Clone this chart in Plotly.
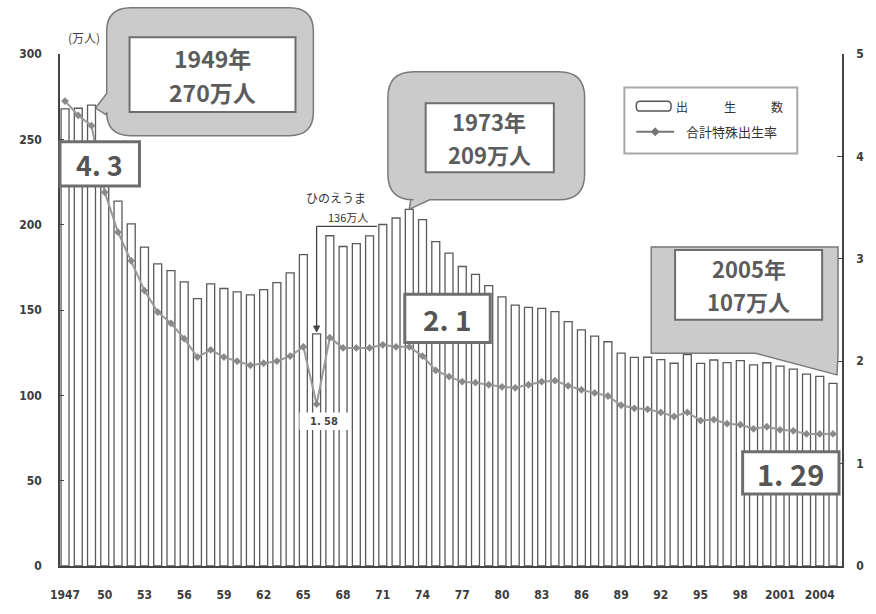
import plotly.graph_objects as go

# ---- data -------------------------------------------------------------
years = list(range(1947, 2006))

# births per year (unit: 10,000 people)
births = [
    267.9, 268.2, 270.0, 233.8, 213.8, 200.5, 186.8, 177.0, 173.1, 166.5,
    156.7, 165.3, 162.6, 160.6, 158.9, 161.9, 166.0, 171.7, 182.4, 136.0,
    193.5, 187.2, 188.9, 193.4, 200.1, 203.9, 209.0, 203.0, 190.1, 183.3,
    175.5, 170.9, 164.3, 157.7, 152.9, 151.5, 150.9, 149.0, 143.2, 138.3,
    134.7, 131.4, 124.7, 122.2, 122.3, 120.9, 118.8, 123.8, 118.7, 120.7,
    119.2, 120.3, 117.8, 119.1, 117.1, 115.4, 112.4, 111.1, 107.0,
]

# total fertility rate
tfr = [
    4.54, 4.40, 4.30, 3.65, 3.26, 2.98, 2.69, 2.48, 2.37, 2.22,
    2.04, 2.11, 2.04, 2.00, 1.96, 1.98, 2.00, 2.05, 2.14, 1.58,
    2.23, 2.13, 2.13, 2.13, 2.16, 2.14, 2.14, 2.05, 1.91, 1.85,
    1.80, 1.79, 1.77, 1.75, 1.74, 1.77, 1.80, 1.81, 1.76, 1.72,
    1.69, 1.66, 1.57, 1.54, 1.53, 1.50, 1.46, 1.50, 1.42, 1.43,
    1.39, 1.38, 1.34, 1.36, 1.33, 1.32, 1.29, 1.29, 1.29,
]

tick_years = [1947, 1950, 1953, 1956, 1959, 1962, 1965, 1968, 1971, 1974,
              1977, 1980, 1983, 1986, 1989, 1992, 1995, 1998, 2001, 2004]
tick_labels = ["1947", "50", "53", "56", "59", "62", "65", "68", "71", "74",
               "77", "80", "83", "86", "89", "92", "95", "98", "2001", "2004"]

left_ticks = [0, 50, 100, 150, 200, 250, 300]
right_ticks = [0, 1, 2, 3, 4, 5]

# ---- geometry -----------------------------------------------------------
FIG_W, FIG_H = 876, 614
ML, MR, MT, MB = 60, 29, 54, 40
PW = FIG_W - ML - MR
PH = FIG_H - MT - MB
XMIN, XMAX = 1946.62, 2005.68
YMAX_L, YMAX_R = 300, 5


def xp(px):
    return (px - ML) / PW


def yp(py):
    return (FIG_H - MB - py) / PH


def data_px(year, value):
    """pixel position of a (year, births) point"""
    x = ML + (year - XMIN) / (XMAX - XMIN) * PW
    y = FIG_H - MB - value / YMAX_L * PH
    return x, y


def to_path(cmds):
    out = []
    for c in cmds:
        op = c[0]
        pts = c[1:]
        out.append(op + " " + " ".join(f"{xp(a):.5f},{yp(b):.5f}" for a, b in pts))
    return " ".join(out) + " Z"


def round_box(x0, y0, x1, y1, r, left_tail=None, bottom_tail=None):
    cmds = [("M", (x0 + r, y0)), ("L", (x1 - r, y0)),
            ("Q", (x1, y0), (x1, y0 + r)), ("L", (x1, y1 - r)),
            ("Q", (x1, y1), (x1 - r, y1))]
    if bottom_tail:
        for p in bottom_tail:
            cmds.append(("L", p))
    cmds += [("L", (x0 + r, y1)), ("Q", (x0, y1), (x0, y1 - r))]
    if left_tail:
        for p in left_tail:
            cmds.append(("L", p))
    cmds += [("L", (x0, y0 + r)), ("Q", (x0, y0), (x0 + r, y0))]
    return to_path(cmds)


def rect(x0, y0, x1, y1, fill, color, width, dash="solid"):
    return dict(type="rect", xref="paper", yref="paper",
                x0=xp(x0), x1=xp(x1), y0=yp(y1), y1=yp(y0),
                fillcolor=fill, line=dict(color=color, width=width, dash=dash),
                layer="above")


def line(x0, y0, x1, y1, color, width):
    return dict(type="line", xref="paper", yref="paper",
                x0=xp(x0), x1=xp(x1), y0=yp(y0), y1=yp(y1),
                line=dict(color=color, width=width), layer="above")


def text(x, y, s, size, color="#5a5a5a", family="Noto Sans CJK JP", bold=True,
         xanchor="center"):
    return dict(xref="paper", yref="paper", x=xp(x), y=yp(y), text=s,
                showarrow=False, xanchor=xanchor, yanchor="middle",
                font=dict(family=family, size=size, color=color,
                          weight="bold" if bold else "normal"))


BUBBLE_FILL = "#cbcbcb"
BUBBLE_LINE = "#7a7a7a"
BOX_LINE = "#6e6e6e"
TXT = "#5c5c5c"

shapes = []
annotations = []

# ---- 1949 callout -----------------------------------------------------------
i49 = years.index(1949)
tx, ty = data_px(1949.3, births[i49])
shapes.append(dict(type="path", xref="paper", yref="paper",
                   path=round_box(107, 7, 315, 137, 24,
                                  left_tail=[(107, 116), (tx, ty + 3), (107, 94)]),
                   fillcolor=BUBBLE_FILL, line=dict(color=BUBBLE_LINE, width=1.5),
                   layer="above"))
shapes.append(rect(130, 37, 297, 113, "white", BOX_LINE, 2))
annotations.append(text(213, 58, "1949年", 23, TXT))
annotations.append(text(213, 93, "270万人", 23, TXT))

# ---- 1973 callout -----------------------------------------------------------
i73 = years.index(1973)
tx, ty = data_px(1973, births[i73])
shapes.append(dict(type="path", xref="paper", yref="paper",
                   path=round_box(390, 72, 588, 202, 26,
                                  bottom_tail=[(432, 202), (tx, ty), (413, 202)]),
                   fillcolor=BUBBLE_FILL, line=dict(color=BUBBLE_LINE, width=1.5),
                   layer="above"))
shapes.append(rect(428, 104, 557, 174, "white", BOX_LINE, 2))
annotations.append(text(492, 122, "1973年", 22, TXT))
annotations.append(text(492, 156, "209万人", 22, TXT))

# ---- 2005 callout -----------------------------------------------------------
i05 = years.index(2005)
tx, ty = data_px(2005.3, births[i05] + 5)
shapes.append(dict(type="path", xref="paper", yref="paper",
                   path=to_path([("M", (655, 250)), ("L", (843, 250)),
                                 ("L", (843, 358)), ("L", (tx, ty)),
                                 ("L", (760, 358)), ("L", (655, 358))]),
                   fillcolor=BUBBLE_FILL, line=dict(color=BUBBLE_LINE, width=1.5),
                   layer="above"))
shapes.append(rect(679, 253, 827, 324, "white", BOX_LINE, 2))
annotations.append(text(753, 271, "2005年", 22, TXT))
annotations.append(text(753, 305, "107万人", 22, TXT))

# ---- rate boxes ------------------------------------------------------------
shapes.append(rect(60, 143, 140, 188, "white", BOX_LINE, 3))
annotations.append(text(100, 166, "4. 3", 27, "#555"))
shapes.append(rect(407, 298, 493, 347, "white", BOX_LINE, 3))
annotations.append(text(450, 323, "2. 1", 28, "#555"))
shapes.append(rect(747, 458, 844, 501, "white", BOX_LINE, 3))
annotations.append(text(795, 480, "1. 29", 29, "#555"))

# ---- hinoeuma (1966) note ----------------------------------------------------
i66 = years.index(1966)
ax66, ay66 = data_px(1966, births[i66])
annotations.append(text(338, 200, "ひのえうま", 12, "#333", bold=False))
annotations.append(text(350, 220, "136万人", 11, "#333", bold=False))
shapes.append(line(ax66, 229, 379, 229, "#444", 1.3))
shapes.append(line(ax66, 229, ax66, ay66 - 6, "#444", 1.3))
shapes.append(dict(type="path", xref="paper", yref="paper",
                   path=to_path([("M", (ax66 - 3, ay66 - 8)), ("L", (ax66 + 3, ay66 - 8)),
                                 ("L", (ax66, ay66 - 2))]),
                   fillcolor="#444", line=dict(color="#444", width=1), layer="above"))
shapes.append(rect(301, 418, 351, 436, "white", "white", 0))
annotations.append(text(326, 427, "1. 58", 11, "#444",
                        family="DejaVu Sans Condensed, Liberation Sans Narrow"))

# ---- legend ----------------------------------------------------------------
shapes.append(rect(628, 88, 802, 155, "white", "#a8a8a8", 2))
shapes.append(dict(type="path", xref="paper", yref="paper",
                   path=round_box(640, 102, 675, 112, 4),
                   fillcolor="white", line=dict(color="#555", width=1.5), layer="above"))
annotations.append(text(686, 107, "出", 12, "#333", bold=False))
annotations.append(text(734, 107, "生", 12, "#333", bold=False))
annotations.append(text(782, 107, "数", 12, "#333", bold=False))
shapes.append(line(640, 133, 678, 133, "#777", 2))
shapes.append(dict(type="path", xref="paper", yref="paper",
                   path=to_path([("M", (659, 129)), ("L", (663, 133)),
                                 ("L", (659, 137)), ("L", (655, 133))]),
                   fillcolor="#777", line=dict(color="#777", width=1), layer="above"))
annotations.append(text(736, 133, "合計特殊出生率", 13, "#333", bold=False))

# ---- unit label -------------------------------------------------------------
annotations.append(text(84, 37, "(万人)", 12, "#444", bold=False))

# ---- traces ---------------------------------------------------------------
fig = go.Figure()
fig.add_trace(go.Bar(
    x=years, y=births, width=0.6, name="出生数",
    marker=dict(color="white", line=dict(color="#5a5a5a", width=1.3)),
    showlegend=False,
))
fig.add_trace(go.Scatter(
    x=years, y=tfr, yaxis="y2", mode="lines+markers", name="合計特殊出生率",
    line=dict(color="#9a9a9a", width=2),
    marker=dict(symbol="diamond", size=6, color="#8a8a8a"),
    showlegend=False,
))

tick_font = dict(family="DejaVu Sans Condensed, Liberation Sans Narrow",
                 size=12, color="#3c3c3c", weight="bold")

fig.update_layout(
    width=FIG_W, height=FIG_H,
    margin=dict(l=ML, r=MR, t=MT, b=MB),
    paper_bgcolor="white", plot_bgcolor="white",
    bargap=0.4,
    xaxis=dict(range=[XMIN, XMAX], tickmode="array", tickvals=tick_years,
               ticktext=tick_labels, showgrid=False, zeroline=False,
               showline=True, linecolor="#444", linewidth=1.5,
               ticks="", tickfont=tick_font, ticklabelstandoff=17),
    yaxis=dict(range=[0, YMAX_L], tickvals=left_ticks, showgrid=False,
               zeroline=False, showline=True, linecolor="#444", linewidth=1.5,
               ticks="inside", ticklen=4, tickcolor="#444",
               tickfont=tick_font, ticklabelstandoff=14),
    yaxis2=dict(range=[0, YMAX_R], tickvals=right_ticks, overlaying="y",
                side="right", showgrid=False, zeroline=False, showline=True,
                linecolor="#444", linewidth=1.5, ticks="inside", ticklen=5,
                tickcolor="#444", tickfont=tick_font, ticklabelstandoff=10),
    shapes=shapes,
    annotations=annotations,
)

fig.write_html("out.html")
